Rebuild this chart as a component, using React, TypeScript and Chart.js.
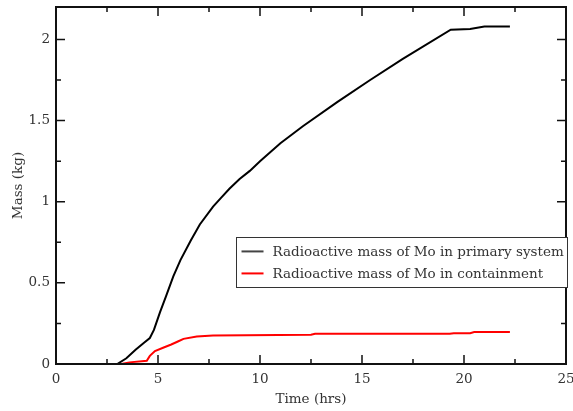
import React, { useEffect, useRef } from "react";
import { Chart, registerables } from "chart.js";

Chart.register(...registerables);

const primaryTime = [0, 3.0, 3.45, 3.9, 4.3, 4.6, 4.8, 5.1, 5.4, 5.75, 6.1, 6.6, 7.05, 7.7, 8.1, 8.5, 9.0, 9.5, 10.0, 11.0, 12.1, 13.8, 15.4, 17.0, 19.35, 20.3, 21.0, 22.25];
const primaryMass = [0, 0, 0.035, 0.088, 0.13, 0.16, 0.21, 0.32, 0.42, 0.54, 0.64, 0.76, 0.86, 0.97, 1.025, 1.08, 1.14, 1.19, 1.25, 1.36, 1.465, 1.615, 1.75, 1.88, 2.06, 2.065, 2.08, 2.08];

const containmentTime = [0, 3.2, 3.6, 4.45, 4.6, 4.85, 5.25, 5.65, 6.0, 6.25, 6.9, 7.7, 12.5, 12.7, 19.3, 19.5, 20.3, 20.5, 22.25];
const containmentMass = [0, 0, 0.01, 0.02, 0.05, 0.08, 0.1, 0.12, 0.14, 0.155, 0.17, 0.176, 0.18, 0.186, 0.186, 0.19, 0.19, 0.197, 0.197];

const seriesLabels = ["Radioactive mass of Mo in primary system", "Radioactive mass of Mo in containment"];
const xMajorTicks = [0, 5, 10, 15, 20, 25];
const xMinorTicks = [2.5, 7.5, 12.5, 17.5, 22.5];
const yMajorTicks = [0, 0.5, 1, 1.5, 2];
const yMinorTicks = [0.25, 0.75, 1.25, 1.75];

const FONT = "'DejaVu Serif', serif";
const FSIZE = 13.5;
const TEXT = "#333";

const framePlugin = {
  id: "frameTicks",
  afterDatasetsDraw(chart: any) {
    const { ctx, chartArea: a, scales } = chart;
    const xs = scales.x, ys = scales.y;
    ctx.save();
    ctx.strokeStyle = "#111";
    ctx.lineWidth = 1.5;
    ctx.beginPath();
    const tick = (x1: number, y1: number, x2: number, y2: number) => { ctx.moveTo(x1, y1); ctx.lineTo(x2, y2); };
    xMajorTicks.forEach(v => { const p = xs.getPixelForValue(v); tick(p, a.bottom, p, a.bottom - 9); tick(p, a.top, p, a.top + 9); });
    xMinorTicks.forEach(v => { const p = xs.getPixelForValue(v); tick(p, a.bottom, p, a.bottom - 5); tick(p, a.top, p, a.top + 5); });
    yMajorTicks.forEach(v => { const p = ys.getPixelForValue(v); tick(a.left, p, a.left + 9, p); tick(a.right, p, a.right - 9, p); });
    yMinorTicks.forEach(v => { const p = ys.getPixelForValue(v); tick(a.left, p, a.left + 5, p); tick(a.right, p, a.right - 5, p); });
    ctx.stroke();
    ctx.lineWidth = 2;
    ctx.strokeRect(a.left, a.top, a.right - a.left, a.bottom - a.top);

    // legend
    const bx = xs.getPixelForValue(8.8);
    const by = ys.getPixelForValue(0.78);
    const bw = a.right + 1 - bx;
    const bh = 50;
    ctx.fillStyle = "#fff";
    ctx.fillRect(bx, by, bw, bh);
    ctx.lineWidth = 1;
    ctx.strokeStyle = "#333";
    ctx.strokeRect(Math.round(bx) + 0.5, Math.round(by) + 0.5, Math.round(bw), bh);
    ctx.font = `${FSIZE}px ${FONT}`;
    ctx.textBaseline = "middle";
    ctx.textAlign = "left";
    chart.data.datasets.forEach((ds: any, i: number) => {
      const cy = by + 14 + i * 22;
      ctx.strokeStyle = i === 0 ? "#444" : ds.borderColor;
      ctx.lineWidth = 2;
      ctx.beginPath();
      ctx.moveTo(bx + 6, cy);
      ctx.lineTo(bx + 28, cy);
      ctx.stroke();
      ctx.fillStyle = TEXT;
      ctx.fillText(ds.label, bx + 37, cy + 1);
    });
    ctx.restore();
  },
};

export default function App() {
  const ref = useRef<HTMLCanvasElement | null>(null);
  useEffect(() => {
    if (!ref.current) return;
    const chart = new Chart(ref.current, {
      type: "line",
      data: {
        datasets: [
          {
            label: seriesLabels[0],
            data: primaryTime.map((t, i) => ({ x: t, y: primaryMass[i] })),
            borderColor: "#000",
            borderWidth: 2,
            pointRadius: 0,
            tension: 0,
          },
          {
            label: seriesLabels[1],
            data: containmentTime.map((t, i) => ({ x: t, y: containmentMass[i] })),
            borderColor: "#ff0000",
            borderWidth: 2,
            pointRadius: 0,
            tension: 0,
          },
        ],
      },
      options: {
        animation: false,
        responsive: false,
        maintainAspectRatio: false,
        layout: { padding: { top: 7, right: 7, left: 0, bottom: 0 } },
        plugins: { legend: { display: false }, tooltip: { enabled: false } },
        scales: {
          x: {
            type: "linear",
            min: 0,
            max: 25,
            grid: { display: false, drawTicks: false, tickLength: 0 },
            border: { display: false },
            ticks: { stepSize: 5, padding: 7, color: TEXT, font: { family: FONT, size: FSIZE }, maxRotation: 0, includeBounds: false, callback: (v: any) => `${v}` },
            title: { display: true, text: "Time (hrs)", color: TEXT, font: { family: FONT, size: FSIZE }, padding: { top: 0, bottom: 3 } },
            afterFit: (s: any) => { s.height = 47; s.paddingLeft = 0; s.paddingRight = 0; },
          },
          y: {
            type: "linear",
            min: 0,
            max: 2.2,
            grid: { display: false, drawTicks: false, tickLength: 0 },
            border: { display: false },
            ticks: { stepSize: 0.5, padding: 6, color: TEXT, font: { family: FONT, size: FSIZE }, includeBounds: false, callback: (v: any) => `${v}` },
            title: { display: true, text: "Mass (kg)", color: TEXT, font: { family: FONT, size: FSIZE }, padding: { top: 10, bottom: 0 } },
            afterFit: (s: any) => { s.width = 56; s.paddingTop = 0; s.paddingBottom = 0; },
          },
        },
      } as any,
      plugins: [framePlugin],
    });
    return () => chart.destroy();
  }, []);
  return (
    <div style={{ position: "fixed", left: 0, top: 0, width: 573, height: 411, background: "#fff" }}>
      <canvas ref={ref} width={573} height={411} style={{ width: 573, height: 411 }} />
    </div>
  );
}
